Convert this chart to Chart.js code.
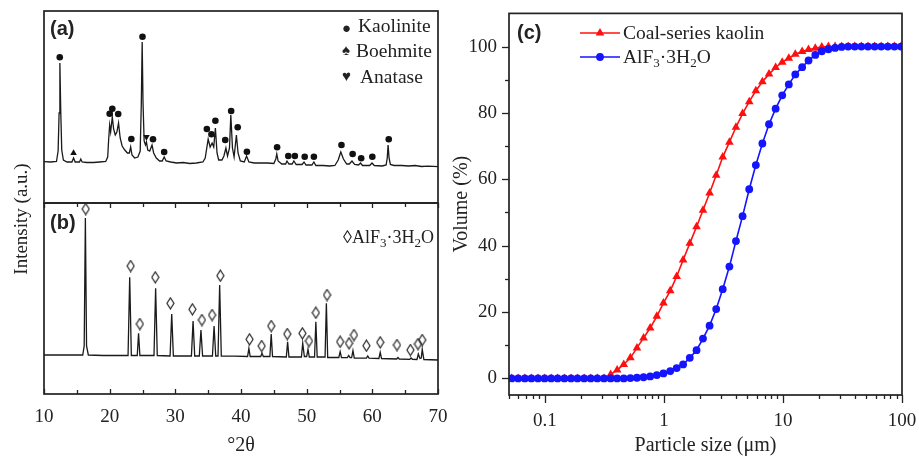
<!DOCTYPE html>
<html>
<head>
<meta charset="utf-8">
<script src="https://cdn.jsdelivr.net/npm/chart.js@4.4.1/dist/chart.umd.min.js"></script>
<style>
  body { margin: 0; width: 919px; height: 456px; overflow: hidden; position: relative; background: #fff;
         font-family: 'Liberation Serif', serif; color: #222; }
  canvas { position: absolute; }
  .t { position: absolute; white-space: nowrap; line-height: 1; }
  .panel { font-family: 'Liberation Sans', sans-serif; font-weight: bold; font-size: 20px; }
  .leg { font-size: 19.5px; }
  .sym { font-size: 15px; }
  sub { font-size: 13px; vertical-align: -4px; line-height: 0; }
</style>
</head>
<body>
<canvas id="chartA" width="452" height="210" style="left:0;top:0"></canvas>
<canvas id="chartB" width="452" height="261" style="left:0;top:195px"></canvas>
<canvas id="chartC" width="479" height="456" style="left:440px;top:0"></canvas>

<div class="t panel" style="left:50px;top:18px">(a)</div>
<div class="t panel" style="left:50px;top:212px">(b)</div>
<div class="t panel" style="left:517px;top:22px">(c)</div>

<div class="t sym" style="left:342px;top:21px">●</div>
<div class="t leg" style="left:358px;top:16px">Kaolinite</div>
<div class="t sym" style="left:342px;top:43px">♠</div>
<div class="t leg" style="left:356px;top:41px">Boehmite</div>
<div class="t sym" style="left:342px;top:69px">♥</div>
<div class="t leg" style="left:360px;top:67px">Anatase</div>

<div class="t leg" style="left:343px;top:228px;font-size:18px">◊AlF<sub>3</sub>·3H<sub>2</sub>O</div>

<div class="t leg" style="left:623px;top:23px">Coal-series kaolin</div>
<div class="t leg" style="left:623px;top:47px">AlF<sub>3</sub>·3H<sub>2</sub>O</div>

<div class="t" style="left:20px;top:219px;font-size:19px;transform:translate(-50%,-50%) rotate(-90deg)">Intensity (a.u.)</div>

<script>
// XRD of coal-series kaolin, [2theta, counts]
const kaolinPattern = [
  [10,41.3],[11,41],[11.9,41.5],[12.15,52],[12.3,90],[12.42,140],[12.55,92],[12.7,53],[12.95,43],
  [13.5,41],[14.25,41],[14.5,45],[14.75,41],[15.4,41],[15.6,44],[15.8,41],[16.5,40.5],[17.5,40.5],
  [18.5,41],[19.4,41.5],[19.7,46],[19.85,64],[20.0,78],[20.15,71],[20.4,86],[20.6,74],[20.85,68],
  [21.1,71],[21.35,80],[21.6,65],[21.9,57],[22.3,53],[22.7,50],[23.0,50],[23.2,56],[23.4,48],
  [23.8,45],[24.3,46],[24.65,52],[24.82,100],[24.95,161],[25.08,100],[25.25,62],[25.45,58],
  [25.6,61],[25.8,53],[26.1,52],[26.45,58],[26.7,50],[27.1,45],[27.6,42],[28.0,42],[28.3,46],
  [28.6,42],[29.3,41],[30.2,40],[31.2,40.5],[32.2,39.5],[33.2,40],[34.2,41],[34.55,45],[35.0,64],
  [35.3,56],[35.6,60],[35.85,56],[36.1,75],[36.35,50],[36.6,43],[37.1,43],[37.4,47],[37.7,55],
  [37.95,47],[38.25,55],[38.45,88],[38.7,55],[38.95,46],[39.3,68],[39.55,50],[39.9,42],[40.5,41],
  [40.85,47],[41.2,41],[42.0,40],[43.0,40],[44.0,40],[45.0,39.5],[45.3,44],[45.45,49],[45.65,42],
  [46.2,39],[46.8,39],[47.0,42],[47.3,39],[47.8,39],[48.05,42],[48.4,38.5],[49.3,38.5],[49.6,41],
  [49.9,38],[50.8,38],[51.1,41],[51.4,37.5],[52.5,37.5],[53.5,37],[54.3,37.5],[54.8,43],[55.2,51],
  [55.6,44],[56.1,39],[56.5,39],[56.9,42],[57.3,38.5],[57.9,38],[58.2,40],[58.5,37.5],[59.6,37.5],
  [59.95,40],[60.3,37.5],[61.5,37],[62.1,38],[62.27,45],[62.4,58],[62.55,45],[62.75,38.5],
  [63.3,37.5],[64.5,37.5],[65.5,37],[66.5,37.5],[67.5,36.5],[68.5,36.8],[70,36.3]
];
const kaoliniteMarks = [
  [12.4,145.7],[20.0,89.3],[20.4,94.3],[21.3,89],[23.3,64],[25.0,166.3],[26.6,63.7],[28.3,51],
  [34.8,74],[35.5,68.7],[36.1,82.3],[37.6,63],[38.5,92],[39.5,75.7],[40.9,51.3],[45.5,55.7],
  [47.2,47],[48.2,47],[49.7,46.3],[51.1,46.3],[55.3,58],[57.0,49],[58.3,44.7],[60.0,46.3],[62.5,63.7]
];
const boehmiteMarks = [[14.5,50]];
const anataseMarks = [[25.6,66]];

// XRD of AlF3·3H2O, [2theta, counts]
const alfPattern = [
  [10,39],[13,39],[15.9,39],[16.12,48],[16.3,176],[16.48,48],[16.75,39],[19,38.5],
  [22.8,38.5],[23.05,116.7],[23.3,38.5],[24.2,38.5],[24.4,60.7],[24.6,38.5],
  [26.75,38.5],[27.0,105.7],[27.25,38.5],[29.2,38],[29.45,80],[29.7,38],
  [32.45,38],[32.7,73],[32.95,38],[33.65,38],[33.9,64],[34.15,38],
  [35.65,38],[35.9,68],[36.15,38],[36.5,38],[36.75,109],[37.0,38],[39,37.8],
  [41.0,37.5],[41.2,45.7],[41.4,37.5],[43.0,37.5],[43.2,40.7],[43.4,37.5],
  [44.4,37.5],[44.6,60],[44.8,37.5],[46.9,37],[47.1,52.3],[47.3,37],
  [49.2,37],[49.4,50.7],[49.65,37.5],[50.0,37.5],[50.2,44.7],[50.4,37],
  [51.2,37],[51.4,72.3],[51.6,37],[52.8,37],[53.0,90.7],[53.2,36.5],
  [54.9,36.5],[55.1,42.3],[55.3,36.5],[56.2,36.3],[56.4,38.5],[56.6,36.3],
  [56.85,36.3],[57.05,43.3],[57.25,36],[59.1,35.8],[59.3,38],[59.5,35.8],
  [61.0,35.5],[61.2,41.7],[61.4,35.5],[63.7,35],[63.9,36.5],[64.1,35],
  [65.7,34.7],[65.9,36],[66.1,34.7],[66.8,34.5],[67.0,40],[67.25,35.5],[67.45,36],
  [67.6,44.7],[67.85,34.5],[70,34]
];
const alfMarks = [
  [16.35,185],[23.2,128],[24.6,70],[26.95,116.7],[29.25,90.7],[32.6,84.7],[34.05,74],[35.6,79],
  [36.85,118.3],[41.3,54.7],[43.15,48],[44.6,68],[47.05,60],[49.35,60.7],[50.35,53],[51.4,81.3],
  [53.1,99],[55.1,52.3],[56.45,50.7],[57.2,59],[59.1,48.3],[61.2,51.7],[63.75,49],[65.8,44],
  [66.95,50],[67.6,54]
];

// particle size distribution (cumulative volume %)
const particleSizes = [
  0.0526,0.0597,0.0679,0.0771,0.0876,0.0995,0.113,0.128,0.146,0.166,0.188,0.214,0.243,0.276,0.314,
  0.357,0.405,0.460,0.523,0.594,0.675,0.767,0.872,0.991,1.13,1.28,1.45,1.65,1.88,2.13,2.42,2.75,
  3.12,3.55,4.03,4.58,5.21,5.92,6.72,7.64,8.68,9.86,11.2,12.7,14.5,16.4,18.7,21.2,24.1,27.4,31.1,
  35.3,40.1,45.6,51.8,58.9,66.9,76.0,86.4,98.1
];
const kaolinVolume = [
  0,0,0,0,0,0,0,0,0,0,0,0,0,0,0,
  1.2,2.5,4.2,6.2,9.2,12.2,15.2,18.7,22.7,26.4,30.7,35.7,40.7,45.7,50.7,55.9,61.2,
  66.7,71.2,75.7,79.8,83.4,86.7,89.4,91.7,93.7,95.3,96.5,97.7,98.5,99.1,99.5,99.9,100,100,100,
  100,100,100,100,100,100,100,100,100
];
const alfVolume = [
  0,0,0,0,0,0,0,0,0,0,0,0,0,0,0,
  0,0,0,0.1,0.2,0.35,0.6,1.0,1.5,2.2,3.1,4.2,6.2,8.5,12.0,15.9,20.9,
  26.9,33.7,41.4,48.9,57.0,64.3,70.8,76.6,81.3,85.3,88.6,91.6,93.8,95.8,97.5,98.6,99.2,99.6,99.9,
  100,100,100,100,100,100,100,100,100
];

const thetaTicks = [10, 20, 30, 40, 50, 60, 70];
const thetaMinor = [15, 25, 35, 45, 55, 65];
const volumeTicks = [0, 20, 40, 60, 80, 100];
const volumeMinor = [10, 30, 50, 70, 90];
const sizeTicks = [0.1, 1, 10, 100];
const sizeMinor = [0.05,0.06,0.07,0.08,0.09,0.2,0.3,0.4,0.5,0.6,0.7,0.8,0.9,2,3,4,5,6,7,8,9,20,30,40,50,60,70,80,90];

Chart.defaults.font.family = 'Liberation Serif';
Chart.defaults.color = '#222';

const toXY = arr => arr.map(p => ({x: p[0], y: p[1]}));

// frame box + inward/outward tick marks
const frameTicks = {
  id: 'frameTicks',
  afterDatasetsDraw(chart, args, opts) {
    const {ctx, chartArea: a, scales} = chart;
    ctx.save();
    ctx.strokeStyle = '#222';
    ctx.lineWidth = 1.3;
    (opts.marks || []).forEach(m => {
      const s = scales[m.axis];
      m.values.forEach(v => {
        const p = Math.round(s.getPixelForValue(v)) + 0.5;
        ctx.beginPath();
        if (m.axis === 'x') {
          const y0 = m.edge === 'top' ? a.top : a.bottom;
          ctx.moveTo(p, y0); ctx.lineTo(p, y0 + m.len);
        } else {
          ctx.moveTo(a.left, p); ctx.lineTo(a.left + m.len, p);
        }
        ctx.stroke();
      });
    });
    ctx.lineWidth = 1.7;
    ctx.strokeRect(a.left, a.top, a.right - a.left, a.bottom - a.top);
    ctx.restore();
  }
};

function diamondPoint() {
  const c = document.createElement('canvas');
  c.width = 9; c.height = 13;
  const g = c.getContext('2d');
  g.strokeStyle = '#222';
  g.lineWidth = 1.2;
  g.beginPath();
  g.moveTo(4.5, 1); g.lineTo(8, 6.5); g.lineTo(4.5, 12); g.lineTo(1, 6.5);
  g.closePath();
  g.stroke();
  return c;
}

const xrdLine = (data) => ({
  data: toXY(data), showLine: true, borderColor: '#1a1a1a', borderWidth: 1.3,
  pointRadius: 0, tension: 0, order: 2
});
const hidden = {display: false};
// invisible tick marks that only reserve room between axis and labels
const spacer = len => ({display: true, drawOnChartArea: false, drawTicks: true, tickLength: len, color: 'rgba(0,0,0,0)'});

// panel (a)
new Chart(document.getElementById('chartA'), {
  type: 'scatter',
  data: {
    datasets: [
      xrdLine(kaolinPattern),
      {data: toXY(kaoliniteMarks), pointStyle: 'circle', pointRadius: 3.3, backgroundColor: '#111', borderWidth: 0, order: 1},
      {data: toXY(boehmiteMarks), pointStyle: 'triangle', pointRadius: 3.8, backgroundColor: '#111', borderWidth: 0, order: 1},
      {data: toXY(anataseMarks), pointStyle: 'triangle', rotation: 180, pointRadius: 3.8, backgroundColor: '#111', borderWidth: 0, order: 1}
    ]
  },
  options: {
    responsive: false, animation: false, events: [],
    layout: {padding: {left: 44, right: 14, top: 11, bottom: 7}},
    plugins: {legend: hidden, tooltip: {enabled: false}, frameTicks: {marks: []}},
    scales: {
      x: {type: 'linear', min: 10, max: 70, display: false},
      y: {min: 0, max: 192, display: false}
    }
  },
  plugins: [frameTicks]
});

// panel (b)
new Chart(document.getElementById('chartB'), {
  type: 'scatter',
  data: {
    datasets: [
      xrdLine(alfPattern),
      {data: toXY(alfMarks), pointStyle: diamondPoint(), pointRadius: 5, order: 1}
    ]
  },
  options: {
    responsive: false, animation: false, events: [],
    layout: {padding: {left: 44, right: 14, top: 8, bottom: 0}},
    plugins: {
      legend: hidden, tooltip: {enabled: false},
      frameTicks: {marks: [
        {axis: 'x', edge: 'top', values: thetaTicks, len: 5},
        {axis: 'x', edge: 'top', values: thetaMinor, len: 4},
        {axis: 'x', edge: 'bottom', values: thetaTicks, len: -5},
        {axis: 'x', edge: 'bottom', values: thetaMinor, len: -4}
      ]}
    },
    scales: {
      x: {
        type: 'linear', min: 10, max: 70,
        grid: {display: false}, border: {display: false},
        afterBuildTicks: s => { s.ticks = thetaTicks.map(v => ({value: v})); },
        afterFit: s => { s.height = 62; },
        ticks: {padding: 4, maxRotation: 0, autoSkip: false, font: {size: 19}},
        title: {display: true, text: '°2θ', font: {size: 20, lineHeight: 1}, padding: {top: 0, bottom: 0}}
      },
      y: {min: 0, max: 191, display: false}
    }
  },
  plugins: [frameTicks]
});

// panel (c) legend samples (line + marker)
const legendSamples = {
  id: 'legendSamples',
  afterDraw(chart) {
    const ctx = chart.ctx;
    const rows = [{ds: 1, y: 33}, {ds: 0, y: 57}];
    rows.forEach(r => {
      const d = chart.data.datasets[r.ds];
      ctx.save();
      ctx.strokeStyle = d.borderColor;
      ctx.fillStyle = d.backgroundColor;
      ctx.lineWidth = d.borderWidth;
      ctx.beginPath();
      ctx.moveTo(140, r.y); ctx.lineTo(180, r.y);
      ctx.stroke();
      Chart.helpers.drawPoint(ctx, {pointStyle: d.pointStyle, radius: d.pointRadius, borderWidth: 0, rotation: 0}, 160, r.y);
      ctx.restore();
    });
  }
};

// panel (c)
new Chart(document.getElementById('chartC'), {
  type: 'scatter',
  data: {
    datasets: [
      {label: 'AlF3·3H2O', data: particleSizes.map((s, i) => ({x: s, y: alfVolume[i]})),
       showLine: true, borderColor: '#1414ff', backgroundColor: '#1414ff', borderWidth: 1.6,
       pointStyle: 'circle', pointRadius: 3.9, pointBorderWidth: 0},
      {label: 'Coal-series kaolin', data: particleSizes.map((s, i) => ({x: s, y: kaolinVolume[i]})),
       showLine: true, borderColor: '#ff1010', backgroundColor: '#ff1010', borderWidth: 1.6,
       pointStyle: 'triangle', pointRadius: 5, pointBorderWidth: 0}
    ]
  },
  options: {
    responsive: false, animation: false, events: [],
    layout: {padding: {left: 0, right: 17, top: 13, bottom: 0}},
    plugins: {
      legend: hidden, tooltip: {enabled: false},
      frameTicks: {marks: [
        {axis: 'x', edge: 'bottom', values: sizeTicks, len: 8},
        {axis: 'x', edge: 'bottom', values: sizeMinor, len: 4},
        {axis: 'y', values: volumeTicks, len: -7},
        {axis: 'y', values: volumeMinor, len: -4}
      ]}
    },
    scales: {
      x: {
        type: 'logarithmic', min: 0.05, max: 100,
        grid: spacer(13), border: {display: false},
        afterBuildTicks: s => { s.ticks = sizeTicks.map(v => ({value: v})); },
        afterFit: s => { s.height = 61; },
        ticks: {padding: 2, maxRotation: 0, autoSkip: false, font: {size: 19}, callback: v => String(v)},
        title: {display: true, text: 'Particle size (μm)', font: {size: 20, lineHeight: 1}, padding: {top: 0, bottom: 0}}
      },
      y: {
        min: -5, max: 110,
        grid: spacer(10), border: {display: false},
        afterBuildTicks: s => { s.ticks = volumeTicks.map(v => ({value: v})); },
        afterFit: s => { s.width = 69; },
        ticks: {padding: 2, font: {size: 19}, callback: v => String(v)},
        title: {display: true, text: 'Volume (%)', font: {size: 20, lineHeight: 1}, padding: {top: 12, bottom: 0}}
      }
    }
  },
  plugins: [frameTicks, legendSamples]
});
</script>
</body>
</html>
